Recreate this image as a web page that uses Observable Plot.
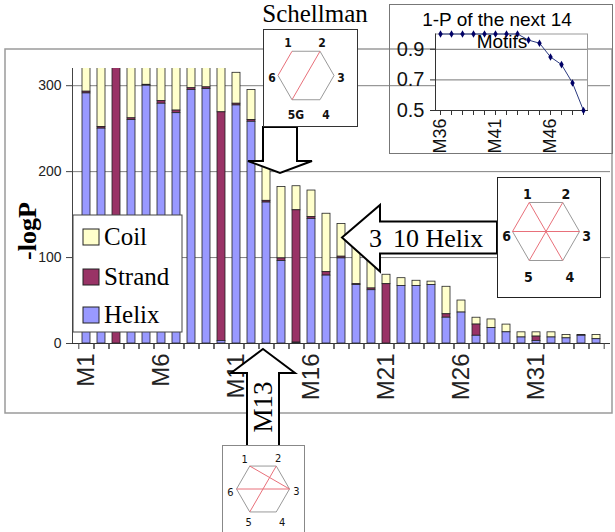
<!DOCTYPE html>
<html><head><meta charset="utf-8">
<script src="https://cdn.jsdelivr.net/npm/d3@7"></script>
<script src="https://cdn.jsdelivr.net/npm/@observablehq/plot@0.6"></script>
<style>
body{margin:0;background:#fff;}
#root{position:relative;width:615px;height:532px;overflow:hidden;font-family:"Liberation Sans",Arial,sans-serif;}
#root > *{position:absolute;}
.box{box-sizing:border-box;background:#fff;}
</style></head><body><div id="root"></div>
<script>
// ---------- data ----------
const motifs = ["M1","M2","M3","M4","M5","M6","M7","M8","M9","M10","M11","M12","M13","M14","M15","M16","M17","M18","M19","M20","M21","M22","M23","M24","M25","M26","M27","M28","M29","M30","M31","M32","M33","M34","M35"];
const helix  = [291,250,0,260,300,279,268,295,296,3,277,258,164,96,1,145,79,99,68,62,0,67,67,68,30,36,9,18,13,7,3,7,6,9,5];
const strand = [2,2,340,2,1,3,3,2,2,266,2,2,2,3,154,2,4,2,1,2,69,0,0,0,4,0,13,0,0,0,5,0,0,1,0];
const coil   = [47,78,0,70,40,55,60,40,35,60,36,35,47,83,28,31,68,38,51,44,11,9,6,4,32,14,8,10,9,6,5,6,4,0,5];
const types = ["Coil","Strand","Helix"];
const typeColors = ["#ffffcc","#993366","#9999ff"];
const stackOrder = ["Helix","Strand","Coil"];
const xLabelTicks = ["M1","M6","M11","M16","M21","M26","M31"];
const yTicks = [0,100,200,300];

const insetMotifs = ["M36","M37","M38","M39","M40","M41","M42","M43","M44","M45","M46","M47","M48","M49"];
const insetValues = [1,1,1,1,1,1,1,1,0.96,0.94,0.85,0.80,0.68,0.50];
const insetLabelTicks = ["M36","M41","M46"];
const insetYTicks = [0.5,0.7,0.9];

// hexagon diagrams: chords drawn in red
const schellmanRed = [[6,1],[2,5]];
const schellmanLabels = ["1","2","3","4","5G","6"];
const helix310Red = [[6,1],[1,4],[2,5],[3,6]];
const helix310Labels = ["1","2","3","4","5","6"];
const m13Red = [[1,3],[2,5],[6,3]];
const m13Labels = ["1","2","3","4","5","6"];

// ---------- helpers ----------
const root = document.getElementById("root");
const SERIF = "Liberation Serif, Times New Roman, serif";
const SANS = "Liberation Sans, Arial, sans-serif";
const W = 615, H = 532;

function place(el, left, top){ el.style.left = left+"px"; el.style.top = top+"px"; root.appendChild(el); return el; }

// background frame
const bg = d3.create("svg").attr("width",W).attr("height",H);
bg.append("rect").attr("x",5).attr("y",49).attr("width",607).attr("height",364)
  .attr("fill","none").attr("stroke","#9a9a9a").attr("stroke-width",1.5);
place(bg.node(),0,0);

// ---------- main chart ----------
const series = {Helix: helix, Strand: strand, Coil: coil};
const rows = motifs.flatMap((m,i)=>types.map(t=>({motif:m, type:t, value:series[t][i]})));
const mL = 72, mR = 5, mT = 68, mB = 189;
const step = (W-mL-mR)/motifs.length;

const main = Plot.plot({
  width:W, height:H, marginLeft:mL, marginRight:mR, marginTop:mT, marginBottom:mB,
  style:{background:"transparent", fontFamily:SANS, color:"#222", overflow:"visible"},
  x:{domain:motifs, paddingInner:0.46, paddingOuter:0.23, axis:null},
  y:{domain:[0,320], axis:null},
  color:{domain:types, range:typeColors},
  marks:[
    Plot.gridY(yTicks.filter(d=>d>0), {stroke:"#808080", strokeOpacity:1}),
    Plot.barY(rows, Plot.stackY({x:"motif", y:"value", fill:"type", order:stackOrder, stroke:"#222", strokeWidth:0.8, clip:true})),
    Plot.frame({anchor:"left", stroke:"#444"}),
    Plot.ruleY([0], {stroke:"#333"}),
    Plot.axisY({ticks:yTicks, tickSize:6, tickPadding:5, fontSize:14, stroke:"#444", label:null}),
    Plot.axisX({tickSize:6, tickFormat:()=>"", dx:step/2, stroke:"#444", label:null}),
    Plot.axisX({tickSize:6, tickFormat:()=>"", dx:-step/2, stroke:"#444", label:null}),
    Plot.axisX({ticks:xLabelTicks, tickSize:0, tickPadding:10, tickRotate:-90, fontSize:24, label:null})
  ]
});
place(main,0,0);

// ---------- overlay: legend, arrows, texts ----------
const ov = d3.create("svg").attr("width",W).attr("height",H);
// legend
ov.append("rect").attr("x",73).attr("y",215).attr("width",109).attr("height",117)
  .attr("fill","#fff").attr("stroke","#444");
const legY = [229,269,307];
types.forEach((t,i)=>{
  ov.append("rect").attr("x",83).attr("y",legY[i]).attr("width",16).attr("height",16)
    .attr("fill",typeColors[i]).attr("stroke","#222");
  ov.append("text").attr("x",104).attr("y",legY[i]+16).attr("font-family",SERIF)
    .attr("font-size",25).text(t);
});
// arrows
const arrowStyle = s=>s.attr("fill","#fff").attr("stroke","#000").attr("stroke-width",2).attr("stroke-linejoin","miter");
arrowStyle(ov.append("polygon").attr("points","263,127 297,127 297,161 312,161 280,173 248,161 263,161"));
arrowStyle(ov.append("polygon").attr("points","497,221.5 380,221.5 380,205 342,237.5 380,271.5 380,253.5 497,253.5"));
arrowStyle(ov.append("polygon").attr("points","263,349 295,373 279,373 279,447 247,447 247,373 231,373"));
ov.append("text").attr("x",369).attr("y",247).attr("font-family",SERIF).attr("font-size",26).text("3");
ov.append("text").attr("x",393).attr("y",247).attr("font-family",SERIF).attr("font-size",26).text("10 Helix");
ov.append("text").attr("transform","translate(263,407) rotate(-90)").attr("text-anchor","middle")
  .attr("dominant-baseline","central").attr("font-family",SERIF).attr("font-size",27).text("M13");
// y label
ov.append("text").attr("transform","translate(27,231) rotate(-90)").attr("text-anchor","middle")
  .attr("dominant-baseline","central").attr("font-family",SERIF).attr("font-weight","bold").attr("font-size",26).text("-logP");
// Schellman title
ov.append("text").attr("x",315).attr("y",22).attr("text-anchor","middle").attr("font-family",SERIF)
  .attr("font-size",25).text("Schellman");
place(ov.node(),0,0);

// ---------- hexagon diagrams ----------
function hexBox({left, top, w, h, border, borderColor, cx, cy, R, red, labels, offsets, fontSize, fontWeight, fontFamily}){
  const div = document.createElement("div");
  div.className = "box";
  div.style.width = w+"px"; div.style.height = h+"px";
  div.style.border = border+"px solid "+borderColor;
  const iw = w-2*border, ih = h-2*border;
  const ox = left+border, oy = top+border;
  const angles = [120,60,0,-60,-120,180];
  const verts = angles.map((a,i)=>({id:i+1, x:cx-ox+R*Math.cos(a*Math.PI/180), y:cy-oy-R*Math.sin(a*Math.PI/180)}));
  const same = (a,b)=>(a[0]===b[0]&&a[1]===b[1])||(a[0]===b[1]&&a[1]===b[0]);
  const ring = d3.range(6).map(i=>[i+1,(i+1)%6+1]).filter(e=>!red.some(r=>same(r,e)));
  const V = id=>verts[id-1];
  const link = (data, stroke)=>Plot.link(data,{x1:e=>V(e[0]).x, y1:e=>V(e[0]).y, x2:e=>V(e[1]).x, y2:e=>V(e[1]).y, stroke, strokeWidth:1});
  const p = Plot.plot({
    width:iw, height:ih, margin:0,
    style:{background:"transparent", overflow:"visible"},
    x:{domain:[0,iw], range:[0,iw], axis:null},
    y:{domain:[0,ih], range:[0,ih], axis:null},
    marks:[
      link(ring,"#999"),
      link(red,"#e8707a"),
      Plot.text(verts,{x:d=>d.x+offsets[d.id-1][0], y:d=>d.y+offsets[d.id-1][1], text:(d,i)=>labels[i],
        fontSize, fontWeight, fontFamily, fill:"#111"})
    ]
  });
  p.style.display = "block";
  div.appendChild(p);
  place(div,left,top);
}
const CONDENSED = "DejaVu Sans Condensed, DejaVu Sans, sans-serif";
hexBox({left:263, top:29, w:95, h:98, border:1.5, borderColor:"#333", cx:306, cy:75.5, R:28,
  red:schellmanRed, labels:schellmanLabels,
  offsets:[[-4,-8],[2,-8],[7,3],[6,15],[4,15],[-6,3]], fontSize:12, fontWeight:"bold", fontFamily:CONDENSED});
hexBox({left:497, top:177, w:104, h:121, border:1.5, borderColor:"#222", cx:546, cy:231.5, R:33.5,
  red:helix310Red, labels:helix310Labels,
  offsets:[[-2,-8],[3,-8],[7,5],[7,17],[-1,17],[-6,5]], fontSize:14, fontWeight:"bold", fontFamily:CONDENSED});
hexBox({left:222, top:445, w:83, h:100, border:1, borderColor:"#888", cx:262.5, cy:488.5, R:26.5,
  red:m13Red, labels:m13Labels,
  offsets:[[-5,-7],[2,-8],[7,2],[6,11],[-1,11],[-6,3]], fontSize:11, fontWeight:"normal", fontFamily:CONDENSED});

// ---------- inset chart ----------
const inset = document.createElement("div");
inset.style.width = "224px"; inset.style.height = "150px";
inset.style.boxSizing = "border-box"; inset.style.border = "1px solid #777";
const ip = Plot.plot({
  width:222, height:148, marginLeft:45, marginRight:25, marginTop:28.5, marginBottom:43,
  style:{background:"transparent", fontFamily:SANS, color:"#111", overflow:"visible"},
  x:{type:"point", domain:insetMotifs, padding:0, axis:null},
  y:{domain:[0.5,1.0], axis:null},
  marks:[
    Plot.frame({fill:"#fff", stroke:"#999"}),
    Plot.gridY([0.7,0.9], {stroke:"#777", strokeOpacity:1}),
    Plot.frame({anchor:"left", stroke:"#333"}),
    Plot.frame({anchor:"bottom", stroke:"#333"}),
    Plot.axisY({ticks:insetYTicks, tickSize:5, tickPadding:6, fontSize:20, tickFormat:d=>d.toFixed(1), stroke:"#333", label:null}),
    Plot.axisX({tickSize:5, tickFormat:()=>"", stroke:"#333", label:null}),
    Plot.axisX({ticks:insetLabelTicks, tickSize:0, tickPadding:8, tickRotate:-90, fontSize:18, label:null}),
    Plot.line(insetMotifs, {x:d=>d, y:(d,i)=>insetValues[i], stroke:"#2b3a80", strokeWidth:1}),
    Plot.dot(insetMotifs, {x:d=>d, y:(d,i)=>insetValues[i], symbol:"diamond", r:2.3, fill:"#000066", stroke:"none"})
  ]
});
ip.style.position = "absolute"; ip.style.left = "0px"; ip.style.top = "0px";
inset.appendChild(ip);
const it = d3.create("svg").attr("width",222).attr("height",148)
  .style("position","absolute").style("left","0px").style("top","0px");
it.append("text").attr("x",107).attr("y",21).attr("text-anchor","middle").attr("font-family",SANS).attr("font-size",19).text("1-P of the next 14");
it.append("text").attr("x",112).attr("y",43).attr("text-anchor","middle").attr("font-family",SANS).attr("font-size",19).text("Motifs");
inset.appendChild(it.node());
place(inset,389,4);
</script></body></html>
